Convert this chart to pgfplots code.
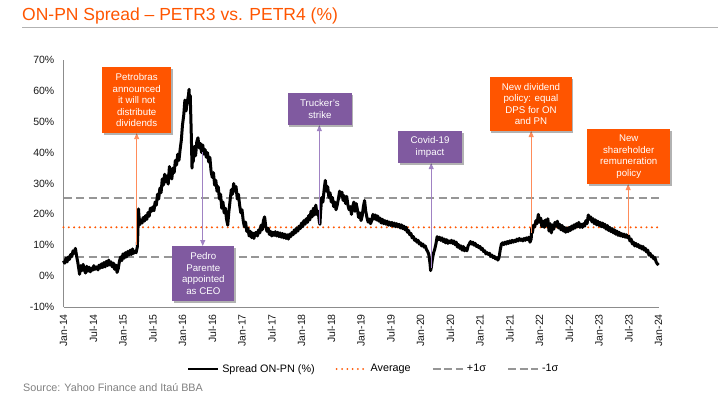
\documentclass[border=0pt]{standalone}
\usepackage{pgfplots}
\pgfplotsset{compat=1.18}
\usepackage{pgfplotstable}
\usepackage{fontspec}
\setmainfont{Liberation Sans}
\usetikzlibrary{arrows.meta,shadows}
\definecolor{itaorange}{RGB}{255,85,0}
\definecolor{itapurple}{RGB}{128,90,160}
\definecolor{arrorange}{RGB}{255,140,90}
\definecolor{arrpurple}{RGB}{160,130,195}
\definecolor{sigmagray}{RGB}{150,150,150}
\definecolor{axisgray}{RGB}{140,140,140}

\pgfplotstableread{
t v
2014.00 5.0
2014.02 4.2
2014.04 5.8
2014.06 4.6
2014.08 6.2
2014.10 5.4
2014.12 7.0
2014.14 6.3
2014.16 8.2
2014.18 7.4
2014.20 9.0
2014.22 6.5
2014.24 4.5
2014.26 2.0
2014.27 0.6
2014.29 3.4
2014.31 1.8
2014.33 3.8
2014.35 2.0
2014.37 1.0
2014.39 3.2
2014.41 1.6
2014.43 2.9
2014.45 1.4
2014.47 2.6
2014.49 1.9
2014.51 3.4
2014.53 2.2
2014.56 3.0
2014.58 2.0
2014.60 3.6
2014.62 2.6
2014.64 4.0
2014.66 2.8
2014.68 4.4
2014.70 3.0
2014.72 4.8
2014.74 3.4
2014.76 5.2
2014.78 3.6
2014.80 4.6
2014.82 3.0
2014.84 4.2
2014.86 2.2
2014.88 3.6
2014.90 1.2
2014.92 2.4
2014.94 4.8
2014.96 6.2
2014.98 5.0
2015.00 7.2
2015.02 5.8
2015.04 7.6
2015.06 6.2
2015.08 8.0
2015.10 6.8
2015.12 8.4
2015.14 7.0
2015.16 8.8
2015.18 7.4
2015.20 8.0
2015.22 7.6
2015.24 9.4
2015.25 14.0
2015.26 21.8
2015.27 19.0
2015.28 16.6
2015.30 18.2
2015.32 17.2
2015.34 19.0
2015.36 17.8
2015.38 19.6
2015.40 18.4
2015.42 20.6
2015.44 19.4
2015.46 22.0
2015.48 21.0
2015.50 22.4
2015.52 21.2
2015.54 24.0
2015.56 23.0
2015.58 26.5
2015.60 25.0
2015.62 28.5
2015.64 27.0
2015.66 31.5
2015.68 29.5
2015.70 33.0
2015.72 30.5
2015.74 32.5
2015.76 29.8
2015.78 35.5
2015.80 33.0
2015.82 31.5
2015.84 35.0
2015.86 33.5
2015.88 37.5
2015.90 36.0
2015.92 39.5
2015.94 37.5
2015.96 41.0
2015.98 44.0
2016.00 49.0
2016.02 52.0
2016.04 57.0
2016.06 53.5
2016.08 56.5
2016.10 58.5
2016.11 60.5
2016.12 56.0
2016.13 58.5
2016.14 51.5
2016.15 44.0
2016.16 35.0
2016.17 39.0
2016.18 37.0
2016.20 42.0
2016.22 39.0
2016.24 43.5
2016.26 44.8
2016.28 41.5
2016.30 43.0
2016.32 40.0
2016.34 42.5
2016.36 39.5
2016.38 41.0
2016.40 38.5
2016.42 40.0
2016.44 37.0
2016.46 38.5
2016.48 34.0
2016.50 32.0
2016.52 33.5
2016.54 29.5
2016.56 31.0
2016.58 27.5
2016.60 29.0
2016.62 25.0
2016.64 26.5
2016.66 22.0
2016.68 24.0
2016.70 20.5
2016.72 22.0
2016.74 18.5
2016.76 16.5
2016.78 21.0
2016.80 24.5
2016.82 28.0
2016.84 26.5
2016.86 30.0
2016.88 27.5
2016.90 29.0
2016.92 25.0
2016.94 26.5
2016.96 23.0
2016.98 20.5
2017.00 21.5
2017.02 18.0
2017.04 16.0
2017.06 17.5
2017.08 14.5
2017.10 15.5
2017.12 13.0
2017.14 14.5
2017.16 12.5
2017.18 14.0
2017.20 12.2
2017.22 13.8
2017.24 14.2
2017.26 13.0
2017.28 15.0
2017.30 14.0
2017.32 16.5
2017.34 15.0
2017.36 18.0
2017.38 19.2
2017.40 16.0
2017.42 14.5
2017.44 15.5
2017.46 13.5
2017.48 14.5
2017.50 13.0
2017.52 14.2
2017.54 13.2
2017.56 14.4
2017.58 13.0
2017.60 14.2
2017.62 12.8
2017.64 14.0
2017.66 12.6
2017.68 13.8
2017.70 12.4
2017.72 13.6
2017.74 12.2
2017.76 13.4
2017.78 12.0
2017.80 13.6
2017.82 12.8
2017.84 14.2
2017.86 13.4
2017.88 15.0
2017.90 14.0
2017.92 15.6
2017.94 14.6
2017.96 16.2
2017.98 15.4
2018.00 17.2
2018.02 16.0
2018.04 18.0
2018.06 16.8
2018.08 18.6
2018.10 17.4
2018.12 19.6
2018.14 18.2
2018.16 21.0
2018.18 19.2
2018.20 22.0
2018.22 19.8
2018.24 23.0
2018.26 20.0
2018.28 21.0
2018.30 17.5
2018.31 16.8
2018.32 20.5
2018.34 25.5
2018.36 24.0
2018.38 28.0
2018.40 31.0
2018.42 27.5
2018.44 29.0
2018.46 25.5
2018.48 27.0
2018.50 24.0
2018.52 25.5
2018.54 22.5
2018.56 24.0
2018.58 21.5
2018.60 23.0
2018.62 25.0
2018.64 27.5
2018.66 26.0
2018.68 27.2
2018.70 24.5
2018.72 26.0
2018.74 23.5
2018.76 25.8
2018.78 23.0
2018.80 21.5
2018.82 22.5
2018.84 20.0
2018.86 22.5
2018.88 24.0
2018.90 21.0
2018.92 23.5
2018.94 21.5
2018.96 19.0
2018.98 20.5
2019.00 18.0
2019.02 19.5
2019.04 22.5
2019.06 24.5
2019.08 21.0
2019.10 19.0
2019.12 17.5
2019.14 18.5
2019.16 17.0
2019.18 18.0
2019.20 20.0
2019.22 18.5
2019.24 19.8
2019.26 18.2
2019.28 19.5
2019.30 17.8
2019.32 18.8
2019.34 17.2
2019.36 18.4
2019.38 17.0
2019.40 18.0
2019.42 16.8
2019.44 17.8
2019.46 16.5
2019.48 17.5
2019.50 16.4
2019.52 17.4
2019.54 16.2
2019.56 17.2
2019.58 16.0
2019.60 17.0
2019.62 16.0
2019.64 16.8
2019.66 15.6
2019.68 16.6
2019.70 15.4
2019.72 16.2
2019.74 15.0
2019.76 15.8
2019.78 14.2
2019.80 14.8
2019.82 13.4
2019.84 13.8
2019.86 12.4
2019.88 12.8
2019.90 11.6
2019.92 12.0
2019.94 11.0
2019.96 11.6
2019.98 10.4
2020.00 10.8
2020.02 9.8
2020.04 10.4
2020.06 9.4
2020.08 9.8
2020.10 8.6
2020.12 8.0
2020.14 7.0
2020.16 4.0
2020.17 1.8
2020.18 2.6
2020.20 5.5
2020.22 7.5
2020.24 8.8
2020.26 10.5
2020.28 12.8
2020.30 11.8
2020.32 12.6
2020.34 11.6
2020.36 12.4
2020.38 11.2
2020.40 12.0
2020.42 10.8
2020.44 11.8
2020.46 10.6
2020.48 11.4
2020.50 10.8
2020.52 11.6
2020.54 10.6
2020.56 11.4
2020.58 10.2
2020.60 11.0
2020.62 9.4
2020.64 10.2
2020.66 9.0
2020.68 9.8
2020.70 8.4
2020.72 9.6
2020.74 8.2
2020.76 9.0
2020.78 8.2
2020.80 9.8
2020.82 10.4
2020.84 11.2
2020.86 10.4
2020.88 11.0
2020.90 10.0
2020.92 10.6
2020.94 9.6
2020.96 10.0
2020.98 9.2
2021.00 9.6
2021.02 8.6
2021.04 9.0
2021.06 8.0
2021.08 8.2
2021.10 7.2
2021.12 7.6
2021.14 7.0
2021.16 7.4
2021.18 6.4
2021.20 6.8
2021.22 6.0
2021.24 6.4
2021.26 5.6
2021.28 6.0
2021.30 5.2
2021.32 6.0
2021.34 8.5
2021.36 10.4
2021.38 10.8
2021.40 10.2
2021.42 11.0
2021.44 10.4
2021.46 11.2
2021.48 10.6
2021.50 11.4
2021.52 10.8
2021.54 11.6
2021.56 11.0
2021.58 11.6
2021.60 11.2
2021.62 12.0
2021.64 11.4
2021.66 12.2
2021.68 11.6
2021.70 12.0
2021.72 11.4
2021.74 12.2
2021.76 11.6
2021.78 12.4
2021.80 11.8
2021.82 12.6
2021.84 11.0
2021.86 12.0
2021.87 15.5
2021.88 14.0
2021.90 16.5
2021.92 16.0
2021.94 18.0
2021.96 17.0
2021.98 20.0
2022.00 17.5
2022.02 18.8
2022.04 16.0
2022.06 17.8
2022.08 15.8
2022.10 18.2
2022.12 16.4
2022.14 18.6
2022.16 14.6
2022.18 17.0
2022.20 14.0
2022.22 16.6
2022.24 15.2
2022.26 17.4
2022.28 16.2
2022.30 17.8
2022.32 15.6
2022.34 16.8
2022.36 15.0
2022.38 16.4
2022.40 14.6
2022.42 15.8
2022.44 14.2
2022.46 15.6
2022.48 14.4
2022.50 15.8
2022.52 14.8
2022.54 16.2
2022.56 15.2
2022.58 16.6
2022.60 15.6
2022.62 17.0
2022.64 16.0
2022.66 17.4
2022.68 15.8
2022.70 16.8
2022.72 15.8
2022.74 17.0
2022.76 16.2
2022.78 18.0
2022.80 17.0
2022.82 19.8
2022.84 18.4
2022.86 19.2
2022.88 17.6
2022.90 18.6
2022.92 17.0
2022.94 18.2
2022.96 16.6
2022.98 17.8
2023.00 16.4
2023.02 17.4
2023.04 16.0
2023.06 17.2
2023.08 15.8
2023.10 16.8
2023.12 15.2
2023.14 16.4
2023.16 14.8
2023.18 15.8
2023.20 14.4
2023.22 15.4
2023.24 14.0
2023.26 15.0
2023.28 13.6
2023.30 14.6
2023.32 13.2
2023.34 14.2
2023.36 13.0
2023.38 13.8
2023.40 12.8
2023.42 13.6
2023.44 12.6
2023.46 13.4
2023.48 12.4
2023.50 13.0
2023.52 11.4
2023.54 12.0
2023.56 10.4
2023.58 11.0
2023.60 9.8
2023.62 10.6
2023.64 9.6
2023.66 10.2
2023.68 9.2
2023.70 9.8
2023.72 8.8
2023.74 9.6
2023.76 8.4
2023.78 9.0
2023.80 7.8
2023.82 8.4
2023.84 6.8
2023.86 7.4
2023.88 6.2
2023.90 6.6
2023.92 5.6
2023.94 6.0
2023.96 4.6
2023.98 4.0
2024.00 3.6
}\spreadtable

\tikzset{
  evbox/.style={fill=#1, text=white, align=center, inner sep=1pt,
    font=\fontsize{9.7}{11.4}\selectfont,
    drop shadow={shadow xshift=1.5pt, shadow yshift=-1.5pt, fill=black, opacity=0.3}},
  evarrow/.style={draw=#1, line width=0.9pt, -{Triangle[length=6pt,width=5pt]}},
}

\begin{document}
\begin{tikzpicture}[x=1pt,y=1pt]
\path[use as bounding box] (0,0) rectangle (720,405);
\node[anchor=base west, text=itaorange, inner sep=0pt,
  font=\fontsize{17.5}{20}\selectfont] at (22,384.3) {ON-PN Spread – PETR3 vs. PETR4 (\%)};
\draw[color=gray!60, line width=0.9pt] (22,378) -- (718,378);
\node[anchor=base west, text=gray, inner sep=0pt,
  font=\fontsize{10.8}{12}\selectfont] at (23,13.5) {Source: Yahoo Finance and Itaú BBA};

\begin{axis}[
  at={(63.5pt,98pt)}, anchor=south west,
  scale only axis, width=595pt, height=247pt,
  xmin=2014, xmax=2024, ymin=-10, ymax=70,
  axis x line=bottom, axis y line=left,
  axis line style={color=axisgray, line width=1pt, -},
  clip=false,
  major tick length=0pt,
  xtick={2014,2014.5,2015,2015.5,2016,2016.5,2017,2017.5,2018,2018.5,2019,2019.5,2020,2020.5,2021,2021.5,2022,2022.5,2023,2023.5,2024},
  xticklabels={Jan-14,Jul-14,Jan-15,Jul-15,Jan-16,Jul-16,Jan-17,Jul-17,Jan-18,Jul-18,Jan-19,Jul-19,Jan-20,Jul-20,Jan-21,Jul-21,Jan-22,Jul-22,Jan-23,Jul-23,Jan-24},
  ytick={-10,0,10,20,30,40,50,60,70},
  yticklabels={-10\%,0\%,10\%,20\%,30\%,40\%,50\%,60\%,70\%},
  x tick label style={rotate=90, anchor=east, inner xsep=7pt, text=black!90,
    font=\fontsize{10.5}{12}\selectfont},
  y tick label style={anchor=east, inner xsep=9pt, text=black!90,
    font=\fontsize{10.5}{12}\selectfont},
  legend columns=4,
  legend cell align=left,
  legend style={at={(0.522,-0.251)}, anchor=center, draw=none, fill=none,
    font=\fontsize{10.8}{12}\selectfont,
    /tikz/every even column/.append style={column sep=18pt},
    nodes={inner xsep=3pt}},
  legend image code/.code={\draw[#1] (0pt,0pt) -- (30pt,0pt);},
]
\addlegendimage{black, line width=2.5pt}
\addlegendentry{Spread ON-PN (\%)}
\addlegendimage{itaorange, line width=2pt, line cap=round, dash pattern=on 0pt off 5.3pt}
\addlegendentry{Average}
\addlegendimage{sigmagray, line width=2.2pt, dash pattern=on 8pt off 3.5pt}
\addlegendentry{+1σ}
\addlegendimage{sigmagray, line width=2.2pt, dash pattern=on 8pt off 3.5pt}
\addlegendentry{-1σ}

\addplot[forget plot, sigmagray, line width=2.3pt, dash pattern=on 8pt off 4.5pt] coordinates {(2014,25.3) (2024,25.3)};
\addplot[forget plot, sigmagray, line width=2.3pt, dash pattern=on 8pt off 4.5pt] coordinates {(2014,6.2) (2024,6.2)};
\addplot[forget plot, itaorange, line width=2.2pt, line cap=round, dash pattern=on 0pt off 5.3pt] coordinates {(2014,15.8) (2024,15.8)};
\addplot[forget plot, black, line width=3pt, line join=round] table[x=t, y=v] {\spreadtable};

% arrows
\draw[evarrow=arrorange] (axis cs:2015.23,10.1) -- (axis cs:2015.23,46.3);
\draw[evarrow=arrpurple] (axis cs:2016.34,40.2) -- (axis cs:2016.34,9.75);
\draw[evarrow=arrpurple] (axis cs:2018.30,17.0) -- (axis cs:2018.30,48.9);
\draw[evarrow=arrpurple] (axis cs:2020.18,2.6) -- (axis cs:2020.18,36.6);
\draw[evarrow=arrorange] (axis cs:2021.86,14.0) -- (axis cs:2021.86,47.0);
\draw[evarrow=arrorange] (axis cs:2023.49,13.3) -- (axis cs:2023.49,29.8);

% boxes
\node[evbox=itaorange, minimum width=69pt, minimum height=66pt] at (axis cs:2015.23,57.0)
  {Petrobras\\announced\\it will not\\distribute\\dividends};
\node[evbox=itapurple, minimum width=62pt, minimum height=55pt] at (axis cs:2016.35,0.84)
  {Pedro\\Parente\\appointed\\as CEO};
\node[evbox=itapurple, minimum width=64pt, minimum height=32pt] at (axis cs:2018.31,54.1)
  {Trucker's\\strike};
\node[evbox=itapurple, minimum width=64pt, minimum height=32pt] at (axis cs:2020.16,41.8)
  {Covid-19\\impact};
\node[evbox=itaorange, minimum width=82pt, minimum height=54pt] at (axis cs:2021.857,55.7)
  {New dividend\\policy: equal\\DPS for ON\\and PN};
\node[evbox=itaorange, minimum width=83pt, minimum height=55pt] at (axis cs:2023.50,38.7)
  {New\\shareholder\\remuneration\\policy};
\end{axis}
\end{tikzpicture}
\end{document}
